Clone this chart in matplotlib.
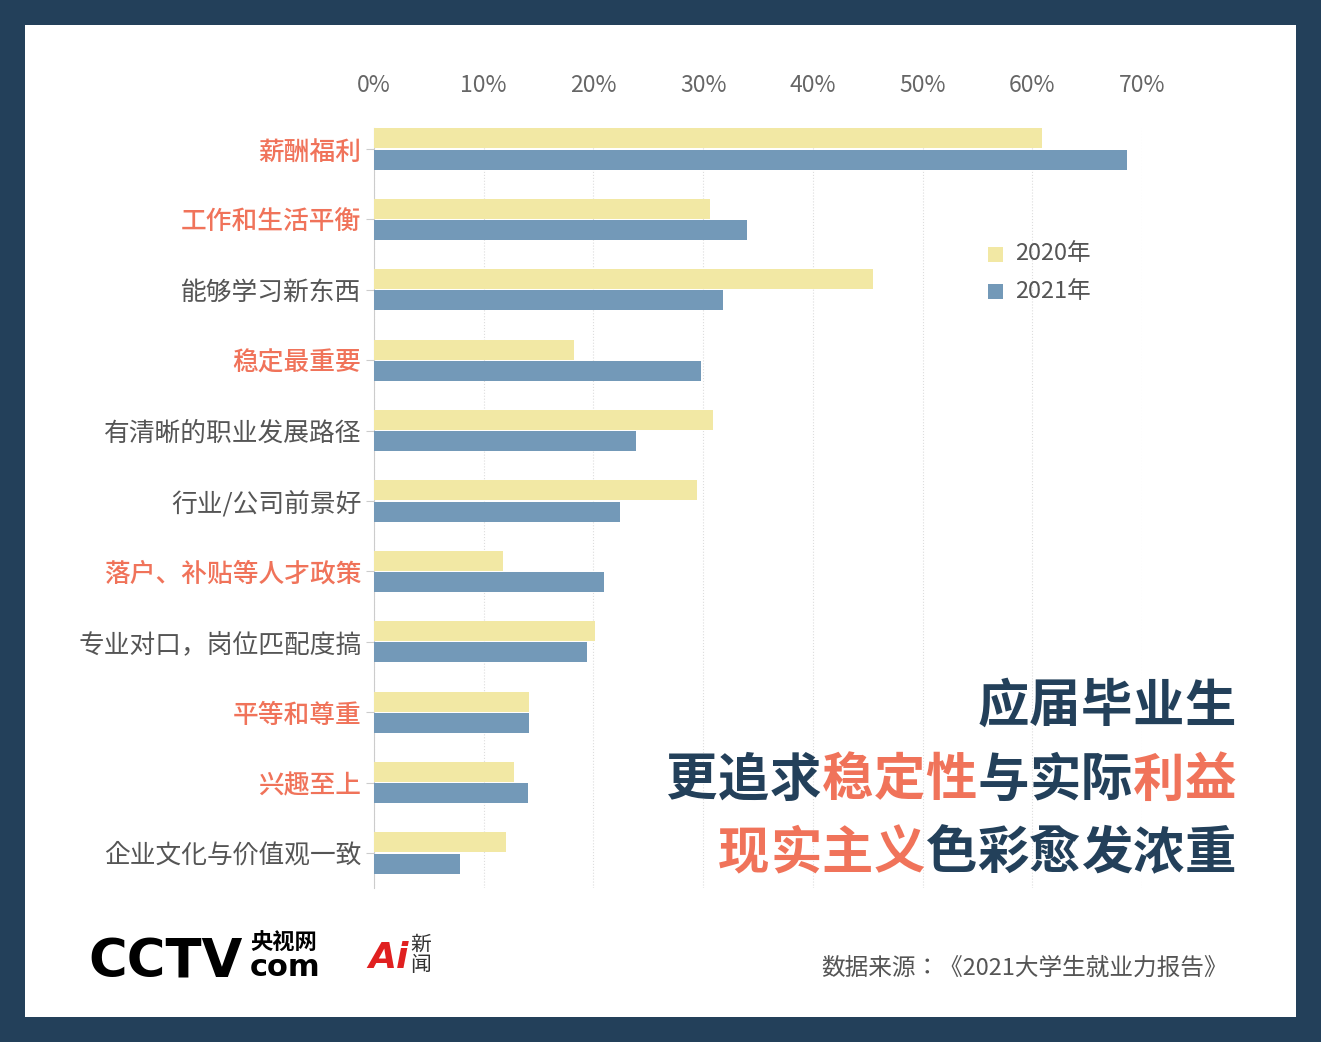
import matplotlib
matplotlib.use("Agg")
import matplotlib.pyplot as plt
from matplotlib import font_manager as fm
from matplotlib.patches import Rectangle

cjk = [f.name for f in fm.fontManager.ttflist if 'CJK' in f.name]
pref = [n for n in ['Noto Sans CJK SC', 'Noto Sans CJK JP', 'Noto Sans CJK TC', 'Noto Sans CJK KR'] if n in cjk]
fam = pref[0] if pref else (cjk[0] if cjk else 'DejaVu Sans')
plt.rcParams['font.family'] = [fam, 'DejaVu Sans']

categories = ["薪酬福利", "工作和生活平衡", "能够学习新东西", "稳定最重要", "有清晰的职业发展路径",
              "行业/公司前景好", "落户、补贴等人才政策", "专业对口，岗位匹配度搞", "平等和尊重", "兴趣至上",
              "企业文化与价值观一致"]
highlight = [True, True, False, True, False, False, True, False, True, True, False]
v2020 = [60.9, 30.6, 45.5, 18.2, 30.9, 29.4, 11.8, 20.1, 14.1, 12.8, 12.0]
v2021 = [68.6, 34.0, 31.8, 29.8, 23.9, 22.4, 21.0, 19.4, 14.1, 14.0, 7.8]
ticks = [0, 10, 20, 30, 40, 50, 60, 70]

W, H = 1321, 1042
fig = plt.figure(figsize=(W/100, H/100), dpi=100)
fig.patch.set_facecolor('#23405a')
bg = fig.add_axes([25/W, 1-1017/H, 1271/W, 992/H])
bg.set_facecolor('white')
bg.set_xticks([]); bg.set_yticks([])
for s in bg.spines.values():
    s.set_visible(False)

ax = fig.add_axes([374/W, 1-888/H, 768/W, 760/H])
ax.set_facecolor('none')
y = list(range(len(categories)))
bh = 0.285
ax.barh([i-0.15 for i in y], v2020, height=bh, color='#f2e8a4', zorder=3)
ax.barh([i+0.15 for i in y], v2021, height=bh, color='#7399b8', zorder=3)
ax.set_xlim(0, 70)
ax.set_ylim(10.497, -0.298)
ax.xaxis.tick_top()
ax.set_xticks(ticks)
ax.set_xticklabels([f"{t}%" for t in ticks], fontsize=16.5, color='#666')
ax.tick_params(axis='x', length=0, pad=22)
ax.set_yticks(y)
ax.set_yticklabels(categories, fontsize=18.5)
for lab, h in zip(ax.get_yticklabels(), highlight):
    lab.set_color('#f0735a' if h else '#555555')
    if h:
        lab.set_fontweight('semibold')
ax.tick_params(axis='y', length=6, color='#ccc', pad=3)
for s in ['top', 'right', 'bottom']:
    ax.spines[s].set_visible(False)
ax.spines['left'].set_color('#ccc')
ax.grid(axis='x', linestyle=':', color='#ddd', zorder=0)
ax.set_axisbelow(True)

# legend
for yy, c, t in [(254, '#f2e8a4', '2020年'), (291, '#7399b8', '2021年')]:
    fig.patches.append(Rectangle((988/W, 1-(yy+8)/H), 15/W, 15/H, transform=fig.transFigure,
                                 facecolor=c, edgecolor='none', zorder=5))
    fig.text(1015/W, 1-yy/H, t, fontsize=17, color='#555', va='center')

# headline
dark, red = '#23405a', '#f0735a'
lines = [(706, [("应届毕业生", dark)]),
         (780, [("更追求", dark), ("稳定性", red), ("与实际", dark), ("利益", red)]),
         (853, [("现实主义", red), ("色彩愈发浓重", dark)])]
cw = 51.8
for yy, parts in lines:
    chars = [(ch, c) for s, c in parts for ch in s]
    n = len(chars)
    for k, (ch, c) in enumerate(chars):
        xc = 1236 - (n-k-0.5)*cw
        fig.text(xc/W, 1-yy/H, ch, fontsize=37, fontweight='bold', color=c, ha='center', va='center')

# logos
fig.text(88/W, 1-962/H, "CCTV", fontsize=38, fontweight='heavy', color='black', va='center',
         fontfamily='DejaVu Sans')
fig.text(250/W, 1-942/H, "央视网", fontsize=16, fontweight='bold', color='black', va='center')
fig.text(250/W, 1-968/H, "com", fontsize=22, fontweight='bold', color='black', va='center',
         fontfamily='DejaVu Sans')
fig.text(368/W, 1-958/H, "Ai", fontsize=26, fontweight='bold', color='#e02020', va='center',
         fontfamily='DejaVu Sans', style='italic')
fig.text(410/W, 1-955/H, "新\n闻", fontsize=15, color='#333', va='center', linespacing=0.9)

fig.text(1228/W, 1-968/H, "数据来源：《2021大学生就业力报告》", fontsize=17, color='#555',
         ha='right', va='center')

fig.savefig("out.png", dpi=100, facecolor=fig.get_facecolor())
